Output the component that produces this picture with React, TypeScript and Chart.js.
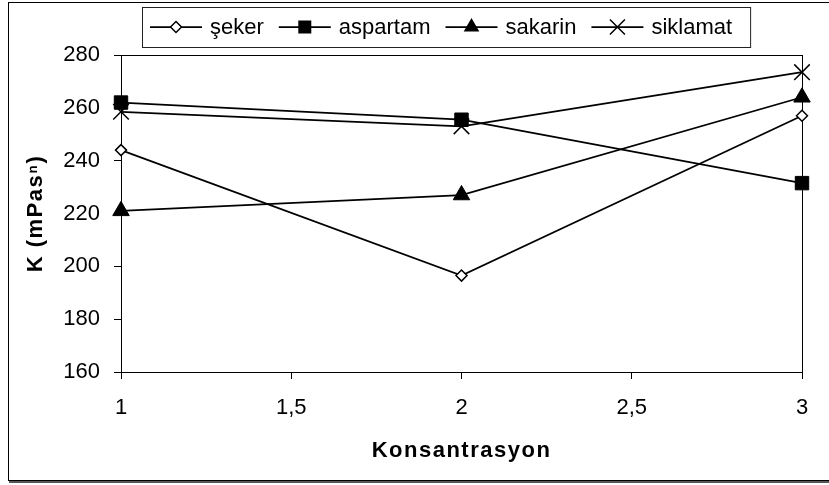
import React, { useEffect, useRef } from 'react';
import { Chart, registerables } from 'chart.js';

Chart.register(...registerables);

const xValues = [1, 2, 3];
const seker = [244, 196.5, 257];
const aspartam = [262, 255.5, 231.5];
const sakarin = [221, 227, 264];
const siklamat = [258.5, 253, 273.5];
const seriesNames = ['şeker', 'aspartam', 'sakarin', 'siklamat'];
const xTicks = [1, 1.5, 2, 2.5, 3];
const yTicks = [160, 180, 200, 220, 240, 260, 280];
const xTitle = 'Konsantrasyon';
const yTitle = 'K (mPasⁿ)';

const FONT = '"Liberation Sans", Arial, sans-serif';
const FONT_SIZE = 22;
const markerStyles = ['diamond', 'square', 'triangle', 'cross'];

function drawMarker(ctx: CanvasRenderingContext2D, style: string, x: number, y: number) {
  ctx.save();
  ctx.strokeStyle = '#000';
  ctx.fillStyle = '#000';
  ctx.lineWidth = 1.5;
  ctx.beginPath();
  if (style === 'diamond') {
    const r = 5.5;
    ctx.moveTo(x, y - r);
    ctx.lineTo(x + r, y);
    ctx.lineTo(x, y + r);
    ctx.lineTo(x - r, y);
    ctx.closePath();
    ctx.fillStyle = '#fff';
    ctx.fill();
    ctx.stroke();
  } else if (style === 'square') {
    const s = 6.5;
    ctx.rect(x - s, y - s, 2 * s, 2 * s);
    ctx.fill();
  } else if (style === 'triangle') {
    const r = 9;
    ctx.moveTo(x, y - r);
    ctx.lineTo(x + r * 0.866, y + r / 2);
    ctx.lineTo(x - r * 0.866, y + r / 2);
    ctx.closePath();
    ctx.fill();
  } else {
    const h = 7.5;
    ctx.moveTo(x - h, y - h);
    ctx.lineTo(x + h, y + h);
    ctx.moveTo(x + h, y - h);
    ctx.lineTo(x - h, y + h);
    ctx.stroke();
  }
  ctx.restore();
}

const framePlugin = {
  id: 'frame',
  afterLayout(chart: any) {
    Object.values(chart.scales).forEach((s: any) => {
      if (s.__wrapped) return;
      const orig = s.drawTitle;
      s.drawTitle = function (...args: any[]) {
        const ctx = this.ctx;
        const prev = ctx.letterSpacing;
        ctx.letterSpacing = '1.5px';
        orig.apply(this, args);
        ctx.letterSpacing = prev || '0px';
      };
      s.__wrapped = true;
    });
  },
  beforeDraw(chart: any) {
    const ctx = chart.ctx as CanvasRenderingContext2D;
    ctx.save();
    ctx.fillStyle = '#fff';
    ctx.fillRect(0, 0, chart.width, chart.height);
    ctx.strokeStyle = '#000';
    ctx.lineWidth = 1;
    ctx.strokeRect(8.5, 2.5, chart.width + 10, 478);
    ctx.strokeStyle = '#555';
    ctx.lineWidth = 2;
    ctx.beginPath();
    ctx.moveTo(9, 482);
    ctx.lineTo(chart.width, 482);
    ctx.stroke();
    ctx.restore();
    (ctx as any).letterSpacing = '0px';
  },
  beforeDatasetsDraw(chart: any) {
    const ctx = chart.ctx as CanvasRenderingContext2D;
    const a = chart.chartArea;
    ctx.save();
    ctx.strokeStyle = '#000';
    ctx.lineWidth = 1;
    ctx.strokeRect(Math.round(a.left) + 0.5, Math.round(a.top) + 0.5, Math.round(a.right - a.left), Math.round(a.bottom - a.top));
    ctx.restore();
  },
  afterDraw(chart: any) {
    const ctx = chart.ctx as CanvasRenderingContext2D;
    ctx.save();
    (ctx as any).letterSpacing = '0px';
    ctx.font = FONT_SIZE + 'px ' + FONT;
    ctx.textBaseline = 'middle';
    ctx.textAlign = 'left';
    const y = 27;
    const lineLen = 52;
    const textGap = 8;
    const itemGap = 15;
    let x = 150;
    const boxLeft = 142;
    for (let i = 0; i < seriesNames.length; i++) {
      ctx.strokeStyle = '#000';
      ctx.lineWidth = 1.75;
      ctx.beginPath();
      ctx.moveTo(x, y);
      ctx.lineTo(x + lineLen, y);
      ctx.stroke();
      drawMarker(ctx, markerStyles[i], x + lineLen / 2, y);
      x += lineLen + textGap;
      ctx.fillStyle = '#000';
      ctx.fillText(seriesNames[i], x, y + 1);
      x += ctx.measureText(seriesNames[i]).width + itemGap;
    }
    const boxRight = x - itemGap + 18;
    ctx.strokeStyle = '#222';
    ctx.lineWidth = 1;
    ctx.strokeRect(boxLeft + 0.5, 7.5, boxRight - boxLeft, 40);
    ctx.restore();
  },
};

function makeDataset(label: string, values: number[], style: any, radius: number, fill: string, bw: number) {
  return {
    label,
    data: xValues.map((x, i) => ({ x, y: values[i] })),
    borderColor: '#000',
    borderWidth: 1.75,
    tension: 0,
    fill: false,
    clip: false as any,
    pointStyle: style,
    pointRadius: radius,
    pointHoverRadius: radius,
    pointBackgroundColor: fill,
    pointBorderColor: '#000',
    pointBorderWidth: bw,
  };
}

export default function App() {
  const ref = useRef<HTMLCanvasElement | null>(null);
  useEffect(() => {
    if (!ref.current) return;
    const chart = new Chart(ref.current, {
      type: 'line',
      data: {
        datasets: [
          makeDataset(seriesNames[0], seker, 'rectRot', 5.5, '#fff', 1.5),
          makeDataset(seriesNames[1], aspartam, 'rect', 9.5, '#000', 1),
          makeDataset(seriesNames[2], sakarin, 'triangle', 9.5, '#000', 1),
          makeDataset(seriesNames[3], siklamat, 'crossRot', 11, '#000', 1.5),
        ] as any,
      },
      options: {
        animation: false,
        responsive: false,
        maintainAspectRatio: false,
        events: [],
        layout: { padding: { top: 55, right: 27, left: 0, bottom: 0 } },
        plugins: { legend: { display: false }, tooltip: { enabled: false } },
        scales: {
          x: {
            type: 'linear',
            min: 1,
            max: 3,
            afterBuildTicks: (s: any) => {
              s.ticks = xTicks.map((v) => ({ value: v }));
            },
            afterFit: (s: any) => {
              s.height = 113;
            },
            ticks: {
              autoSkip: false,
              maxRotation: 0,
              color: '#000',
              padding: 16,
              font: { family: FONT, size: FONT_SIZE },
              callback: (v: any) => String(v).replace('.', ','),
            },
            grid: { drawOnChartArea: false, drawTicks: true, tickLength: 7, color: '#000', lineWidth: 1 },
            border: { display: true, color: '#000', width: 1 },
            title: {
              display: true,
              text: xTitle,
              color: '#000',
              font: { family: FONT, size: FONT_SIZE, weight: 'bold' },
              padding: { top: 0, bottom: 21 },
            },
          },
          y: {
            type: 'linear',
            min: 160,
            max: 280,
            afterBuildTicks: (s: any) => {
              s.ticks = yTicks.map((v) => ({ value: v }));
            },
            afterFit: (s: any) => {
              s.width = 121;
            },
            ticks: {
              color: '#000',
              padding: 14,
              font: { family: FONT, size: FONT_SIZE },
            },
            grid: { drawOnChartArea: false, drawTicks: true, tickLength: 7, color: '#000', lineWidth: 1 },
            border: { display: true, color: '#000', width: 1 },
            title: {
              display: true,
              text: yTitle,
              color: '#000',
              font: { family: FONT, size: FONT_SIZE, weight: 'bold' },
              padding: { top: 23, bottom: 0 },
            },
          },
        },
      } as any,
      plugins: [framePlugin],
    });
    return () => chart.destroy();
  }, []);
  return (
    <div style={{ position: 'absolute', left: 0, top: 0, width: 829, height: 485, background: '#fff' }}>
      <canvas ref={ref} width={829} height={485} style={{ width: 829, height: 485, display: 'block' }} />
    </div>
  );
}
